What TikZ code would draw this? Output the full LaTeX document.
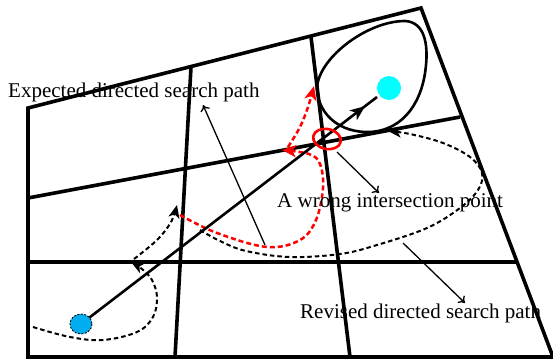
\documentclass[tikz,border=0pt]{standalone}
\usepackage{fontspec}
\setmainfont{Liberation Serif}
\usetikzlibrary{arrows.meta,decorations.markings}
\pgfdeclareradialshading{cyanball}{\pgfpoint{0bp}{0bp}}{color(0bp)=(cyan); color(32bp)=(cyan); color(50bp)=(cyan!60!black)}
\begin{document}
\begin{tikzpicture}[x=1pt,y=-1pt,
  gridline/.style={line width=3.6pt, line join=miter},
  blkdash/.style={line width=2pt, dash pattern=on 4.5pt off 3pt, -{Stealth[length=13pt,width=11pt,inset=3.5pt]}},
  reddash/.style={red, line width=2.5pt, dash pattern=on 5pt off 3pt, -{Stealth[length=14pt,width=12pt,inset=3.5pt]}},
  note/.style={line width=1.3pt, -{To[length=6pt,width=10pt]}},
  lbl/.style={font=\fontsize{21}{25}\selectfont, inner sep=0pt, anchor=base west},
  midarrow/.style={decoration={markings, mark=at position #1 with {\arrow{Stealth[length=15pt,width=12pt,inset=4pt]}}}, postaction={decorate}},
]
\useasboundingbox (0,0) rectangle (553,361);
% grid
\coordinate (TL) at (28,108);
\coordinate (TR) at (421,8);
\coordinate (BR) at (553,357);
\coordinate (BL) at (28,357);
\draw[gridline] (TL) -- (TR) -- (BR) -- (BL) -- cycle;
\coordinate (v1t) at (191,67);
\coordinate (v1b) at (175,357);
\coordinate (v2t) at (311,37);
\coordinate (v2b) at (350,357);
\coordinate (h1l) at (28,198);
\coordinate (h1r) at (460,117);
\coordinate (h2l) at (28,262);
\coordinate (h2r) at (517,262);
\draw[gridline] (v1t) -- (v1b);
\draw[gridline] (v2t) -- (v2b);
\draw[gridline] (h1l) -- (h1r);
\draw[gridline] (h2l) -- (h2r);
% egg region
\draw[line width=2.6pt] (317,90) .. controls (316,60) and (366,21) .. (405,21)
  .. controls (425,22) and (428,45) .. (426,65)
  .. controls (423,100) and (405,130) .. (370,132)
  .. controls (340,133) and (319,115) .. (317,90) -- cycle;
% target ball
\shade[shading=cyanball] (389,88) circle (12);
% start
\coordinate (S) at (81,324);
\coordinate (E) at (377,97);
% black dashed curves
\draw[blkdash] plot[smooth, tension=0.6] coordinates {(33,327) (70,337) (103,340) (137,332) (153,317) (157,297) (152,280) (142,269) (131,262)};
\draw[blkdash] plot[smooth, tension=0.6] coordinates {(134,259) (157,240) (171,222) (177,205)};
\draw[blkdash] plot[smooth, tension=0.6] coordinates {(200,230) (220,241) (246,251) (290,257) (340,254) (377,245) (427,228) (460,208) (478,190) (482,173) (470,157) (443,143) (410,134) (388,131)};
% red dashed curves
\draw[reddash] plot[smooth, tension=0.6] coordinates {(180,215) (217,233) (267,247) (300,240) (316,220) (323,188) (320,164) (309,154) (282,150)};
\draw[reddash] plot[smooth, tension=0.6] coordinates {(288,147) (300,127) (308,107) (314,86)};
% main straight arrow
\draw[line width=2.6pt, midarrow=0.96] (S) -- (E);
\draw[fill=cyan, line width=0.9pt, dash pattern=on 2pt off 1.5pt] (S) ellipse (11 and 10);
% wrong intersection
\draw[red, line width=2.6pt, rotate around={-12:(327,139)}] (327,139) ellipse (14 and 10);
% labels
\node[lbl] (lexp) at (8,97) {Expected directed search path};
\node[lbl] (lwrong) at (277,207) {A wrong intersection point};
\node[lbl] (lrev) at (300,318) {Revised directed search path};
\coordinate (a1s) at (265,245);
\coordinate (a1e) at (203,105);
\coordinate (a2s) at (337,152);
\coordinate (a2e) at (379,193);
\coordinate (a3s) at (403,243);
\coordinate (a3e) at (465,303);
\draw[note] (a1s) -- (a1e);
\draw[note] (a2s) -- (a2e);
\draw[note] (a3s) -- (a3e);
\end{tikzpicture}
\end{document}
